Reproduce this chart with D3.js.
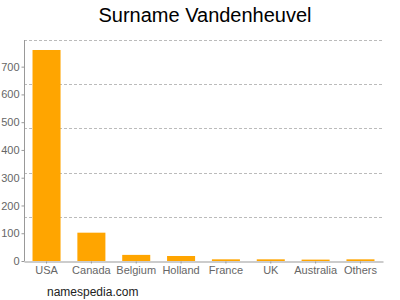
<!DOCTYPE html>
<html>
<head>
<meta charset="utf-8">
<script src="https://cdn.jsdelivr.net/npm/d3@7"></script>
<style>
  body { margin: 0; background: #fff; }
  svg { display: block; font-family: "Liberation Sans", Arial, sans-serif; }
</style>
</head>
<body>
<section></section>
<script>
// chart data
const countries = ['USA', 'Canada', 'Belgium', 'Holland', 'France', 'UK', 'Australia', 'Others'];
const counts = [760, 102, 22, 18, 6, 6, 5, 6];
const yTicks = [0, 100, 200, 300, 400, 500, 600, 700];

const width = 400;
const height = 300;
const margin = { top: 40, right: 17, bottom: 39, left: 24 };
const yMax = 796;

const svg = d3.select('section')
  .append('svg')
  .attr('width', width)
  .attr('height', height);

// title
svg.append('text')
  .attr('x', 205)
  .attr('y', 22)
  .attr('text-anchor', 'middle')
  .attr('font-size', 20)
  .attr('fill', '#000')
  .text('Surname Vandenheuvel');

const xScale = d3.scaleBand()
  .domain(countries)
  .range([margin.left, width - margin.right])
  .paddingInner(0.375)
  .paddingOuter(0.19);

const yScale = d3.scaleLinear()
  .domain([0, yMax])
  .range([height - margin.bottom, margin.top]);

// dashed grid, five equal divisions
const grid = d3.range(1, 6).map((i) => yMax * i / 5);
svg.append('g')
  .selectAll('line')
  .data(grid)
  .enter()
  .append('line')
  .attr('x1', margin.left)
  .attr('x2', width - margin.right)
  .attr('y1', (d) => Math.round(yScale(d)) + 0.5)
  .attr('y2', (d) => Math.round(yScale(d)) + 0.5)
  .attr('stroke', '#bbb')
  .attr('stroke-dasharray', '3,2');

// bars
svg.append('g')
  .selectAll('rect')
  .data(countries)
  .enter()
  .append('rect')
  .attr('x', (d) => xScale(d))
  .attr('width', xScale.bandwidth())
  .attr('y', (d, i) => yScale(counts[i]))
  .attr('height', (d, i) => yScale(0) - yScale(counts[i]))
  .attr('fill', '#ffa500');

// y axis
const yAxis = d3.axisLeft(yScale)
  .tickValues(yTicks)
  .tickSize(3)
  .tickPadding(2);

const gy = svg.append('g')
  .attr('transform', `translate(${margin.left + 0.5}, 0)`)
  .call(yAxis);

// x axis
const xAxis = d3.axisBottom(xScale)
  .tickSize(2)
  .tickSizeOuter(0)
  .tickPadding(3);

const gx = svg.append('g')
  .attr('transform', `translate(0, ${yScale(0) + 0.5})`)
  .call(xAxis);

[gx, gy].forEach((g) => {
  g.selectAll('path, line').attr('stroke', '#999');
  g.selectAll('text')
    .attr('fill', '#666')
    .attr('font-size', 11)
    .attr('font-family', '"Liberation Sans", Arial, sans-serif');
});
gy.select('.domain').attr('d', `M0,${margin.top}V${yScale(0)}`);

// footer
svg.append('text')
  .attr('x', 47)
  .attr('y', 296)
  .attr('font-size', 12)
  .attr('fill', '#222')
  .text('namespedia.com');
</script>
</body>
</html>
